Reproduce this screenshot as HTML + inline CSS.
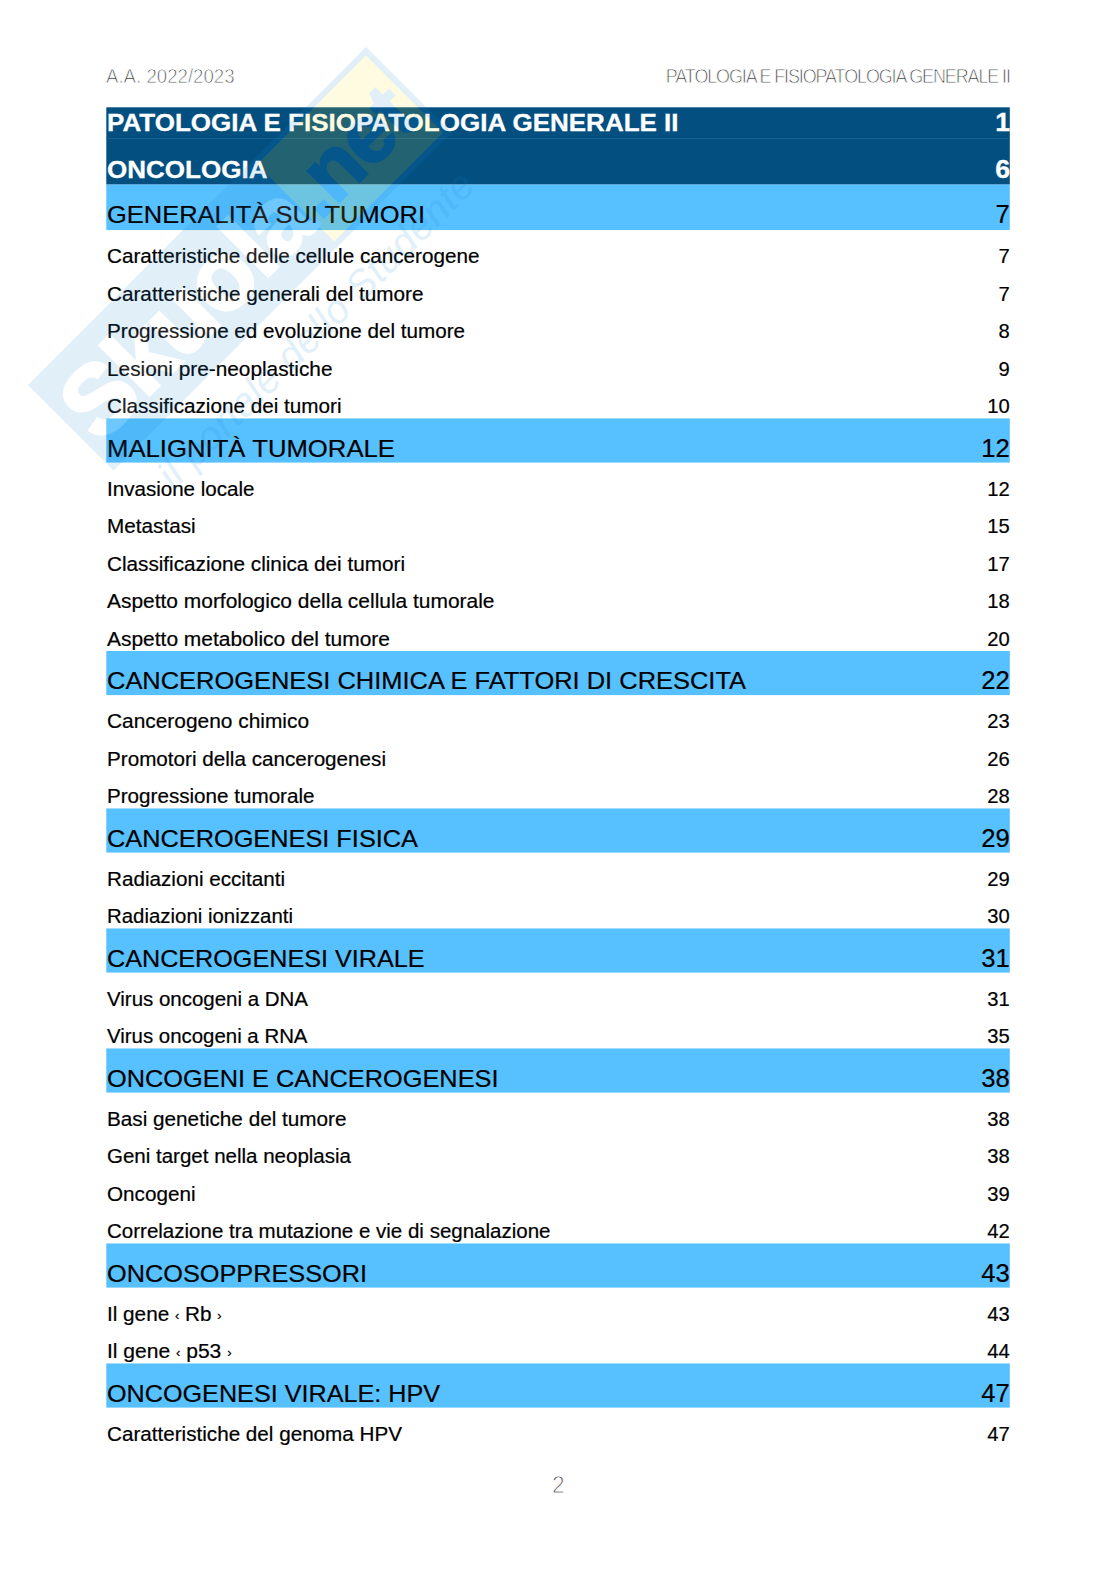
<!DOCTYPE html>
<html lang="it">
<head>
<meta charset="utf-8">
<title>PATOLOGIA E FISIOPATOLOGIA GENERALE II - Indice</title>
<style>
html,body{margin:0;padding:0;background:#fff;}
body{width:1116px;height:1579px;position:relative;overflow:hidden;
 font-family:"Liberation Sans",Arial,Helvetica,sans-serif;color:#000;}
.pg{position:absolute;left:0;top:0;width:1116px;height:1579px;overflow:hidden;}
.bars{position:absolute;left:0;top:0;}
.wm{position:absolute;left:27.5px;top:384.5px;width:478px;height:220px;transform-origin:0 0;transform:rotate(-45deg);opacity:.125;
 font-weight:bold;line-height:1;white-space:nowrap;}
.wm div{position:absolute;}
.wb{left:0;top:0;width:478px;height:121px;background:#1a89d8;}
.wy{left:318px;top:6px;width:154px;height:109px;background:#ffe61a;}
.ws{left:9px;top:11px;font-size:97px;color:#fff;letter-spacing:-1.5px;-webkit-text-stroke:3px #fff;}
.wn{left:322px;top:20px;font-size:84px;color:#1a89d8;letter-spacing:-2px;-webkit-text-stroke:2px #1a89d8;}
.wt{left:28px;top:144px;font-size:40px;font-weight:normal;font-style:italic;color:#1a89d8;letter-spacing:.45px;}
.t,.n,.hl,.hr,.pn{position:absolute;line-height:1;white-space:nowrap;display:block;}
.t,.hl{left:106.7px;transform-origin:0 0;}
.l2,.it{-webkit-text-stroke:0.2px #000;}
.g{font-size:.62em;position:relative;top:-.09em;}
.l1{-webkit-text-stroke:0.3px #fff;}
.n,.hr{right:106.2px;text-align:right;transform-origin:100% 0;}
.l1{color:#fff;font-weight:bold;font-size:24.4px;}
.l2{font-size:24.4px;}
.it{font-size:19.7px;}
.hl,.hr{font-size:19.5px;color:#333;-webkit-text-stroke:0.8px #fff;}
.hr{letter-spacing:-1.2px;}
.pn{font-size:23.5px;color:#555;-webkit-text-stroke:0.8px #fff;transform-origin:0 0;}
</style>
</head>
<body>
<div class="pg">
<svg class="bars" width="1116" height="1579" viewBox="0 0 1116 1579">
<rect x="106.3" y="107.3" width="903.5" height="77.3" fill="#034f7f"/>
<rect x="106.3" y="138" width="903.5" height="1" fill="#185f8b"/>
<rect x="106.3" y="184.6" width="903.5" height="45.45" fill="#57c0ff"/>
<rect x="106.3" y="418.45" width="903.5" height="44.15" fill="#57c0ff"/>
<rect x="106.3" y="650.95" width="903.5" height="44.15" fill="#57c0ff"/>
<rect x="106.3" y="808.45" width="903.5" height="44.15" fill="#57c0ff"/>
<rect x="106.3" y="928.45" width="903.5" height="44.15" fill="#57c0ff"/>
<rect x="106.3" y="1048.45" width="903.5" height="44.15" fill="#57c0ff"/>
<rect x="106.3" y="1243.45" width="903.5" height="44.15" fill="#57c0ff"/>
<rect x="106.3" y="1363.45" width="903.5" height="44.15" fill="#57c0ff"/>
</svg>
<div class="hl" id="hl" style="left:105.5px;top:67.49px;transform:scaleX(0.9565);">A.A. 2022/2023</div>
<div class="hr" id="hr" style="top:67.49px;transform:scaleX(0.9203);">PATOLOGIA E FISIOPATOLOGIA GENERALE II</div>
<div class="t l1" id="r0" style="top:110.95px;transform:scaleX(1.0660);">PATOLOGIA E FISIOPATOLOGIA GENERALE II</div><div class="n l1" id="n0" style="top:110px;font-size:25.2px;transform:scaleX(1.0600);">1</div>
<div class="t l1" id="r1" style="top:158.15px;transform:scaleX(1.0671);">ONCOLOGIA</div><div class="n l1" id="n1" style="top:157px;font-size:25.2px;transform:scaleX(1.0600);">6</div>
<div class="t l2" id="r2" style="top:203.45px;transform:scaleX(1.0444);">GENERALITÀ SUI TUMORI</div><div class="n l2" id="n2" style="top:202px;font-size:25.6px;">7</div>
<div class="t it" id="r3" style="top:247.15px;transform:scaleX(1.0505);">Caratteristiche delle cellule cancerogene</div><div class="n it" id="n3" style="top:246px;font-size:20.2px;">7</div>
<div class="t it" id="r4" style="top:284.65px;transform:scaleX(1.0517);">Caratteristiche generali del tumore</div><div class="n it" id="n4" style="top:284px;font-size:20.2px;">7</div>
<div class="t it" id="r5" style="top:322.15px;transform:scaleX(1.0484);">Progressione ed evoluzione del tumore</div><div class="n it" id="n5" style="top:321px;font-size:20.2px;">8</div>
<div class="t it" id="r6" style="top:359.65px;transform:scaleX(1.0566);">Lesioni pre-neoplastiche</div><div class="n it" id="n6" style="top:359px;font-size:20.2px;">9</div>
<div class="t it" id="r7" style="top:397.15px;transform:scaleX(1.0505);">Classificazione dei tumori</div><div class="n it" id="n7" style="top:396px;font-size:20.2px;">10</div>
<div class="t l2" id="r8" style="top:436.65px;transform:scaleX(1.0537);">MALIGNITÀ TUMORALE</div><div class="n l2" id="n8" style="top:436px;font-size:25.6px;">12</div>
<div class="t it" id="r9" style="top:479.65px;transform:scaleX(1.0447);">Invasione locale</div><div class="n it" id="n9" style="top:479px;font-size:20.2px;">12</div>
<div class="t it" id="r10" style="top:517.15px;transform:scaleX(1.0516);">Metastasi</div><div class="n it" id="n10" style="top:516px;font-size:20.2px;">15</div>
<div class="t it" id="r11" style="top:554.65px;transform:scaleX(1.0515);">Classificazione clinica dei tumori</div><div class="n it" id="n11" style="top:554px;font-size:20.2px;">17</div>
<div class="t it" id="r12" style="top:592.15px;transform:scaleX(1.0633);">Aspetto morfologico della cellula tumorale</div><div class="n it" id="n12" style="top:591px;font-size:20.2px;">18</div>
<div class="t it" id="r13" style="top:629.65px;transform:scaleX(1.0642);">Aspetto metabolico del tumore</div><div class="n it" id="n13" style="top:629px;font-size:20.2px;">20</div>
<div class="t l2" id="r14" style="top:669.15px;transform:scaleX(1.0432);">CANCEROGENESI CHIMICA E FATTORI DI CRESCITA</div><div class="n l2" id="n14" style="top:668px;font-size:25.6px;">22</div>
<div class="t it" id="r15" style="top:712.15px;transform:scaleX(1.0608);">Cancerogeno chimico</div><div class="n it" id="n15" style="top:711px;font-size:20.2px;">23</div>
<div class="t it" id="r16" style="top:749.65px;transform:scaleX(1.0491);">Promotori della cancerogenesi</div><div class="n it" id="n16" style="top:749px;font-size:20.2px;">26</div>
<div class="t it" id="r17" style="top:787.15px;transform:scaleX(1.0476);">Progressione tumorale</div><div class="n it" id="n17" style="top:786px;font-size:20.2px;">28</div>
<div class="t l2" id="r18" style="top:826.65px;transform:scaleX(1.0383);">CANCEROGENESI FISICA</div><div class="n l2" id="n18" style="top:826px;font-size:25.6px;">29</div>
<div class="t it" id="r19" style="top:869.65px;transform:scaleX(1.0494);">Radiazioni eccitanti</div><div class="n it" id="n19" style="top:869px;font-size:20.2px;">29</div>
<div class="t it" id="r20" style="top:907.15px;transform:scaleX(1.0363);">Radiazioni ionizzanti</div><div class="n it" id="n20" style="top:906px;font-size:20.2px;">30</div>
<div class="t l2" id="r21" style="top:946.65px;transform:scaleX(1.0319);">CANCEROGENESI VIRALE</div><div class="n l2" id="n21" style="top:946px;font-size:25.6px;">31</div>
<div class="t it" id="r22" style="top:989.65px;transform:scaleX(1.0396);">Virus oncogeni a DNA</div><div class="n it" id="n22" style="top:989px;font-size:20.2px;">31</div>
<div class="t it" id="r23" style="top:1027.15px;transform:scaleX(1.0370);">Virus oncogeni a RNA</div><div class="n it" id="n23" style="top:1026px;font-size:20.2px;">35</div>
<div class="t l2" id="r24" style="top:1066.65px;transform:scaleX(1.0391);">ONCOGENI E CANCEROGENESI</div><div class="n l2" id="n24" style="top:1066px;font-size:25.6px;">38</div>
<div class="t it" id="r25" style="top:1109.65px;transform:scaleX(1.0521);">Basi genetiche del tumore</div><div class="n it" id="n25" style="top:1109px;font-size:20.2px;">38</div>
<div class="t it" id="r26" style="top:1147.15px;transform:scaleX(1.0417);">Geni target nella neoplasia</div><div class="n it" id="n26" style="top:1146px;font-size:20.2px;">38</div>
<div class="t it" id="r27" style="top:1184.65px;transform:scaleX(1.0501);">Oncogeni</div><div class="n it" id="n27" style="top:1184px;font-size:20.2px;">39</div>
<div class="t it" id="r28" style="top:1222.15px;transform:scaleX(1.0418);">Correlazione tra mutazione e vie di segnalazione</div><div class="n it" id="n28" style="top:1221px;font-size:20.2px;">42</div>
<div class="t l2" id="r29" style="top:1261.65px;transform:scaleX(1.0370);">ONCOSOPPRESSORI</div><div class="n l2" id="n29" style="top:1261px;font-size:25.6px;">43</div>
<div class="t it" id="r30" style="top:1304.65px;transform:scaleX(1.0518);">Il gene <span class="g">‹</span> Rb <span class="g">›</span></div><div class="n it" id="n30" style="top:1304px;font-size:20.2px;">43</div>
<div class="t it" id="r31" style="top:1342.15px;transform:scaleX(1.0682);">Il gene <span class="g">‹</span> p53 <span class="g">›</span></div><div class="n it" id="n31" style="top:1341px;font-size:20.2px;">44</div>
<div class="t l2" id="r32" style="top:1381.65px;transform:scaleX(1.0323);">ONCOGENESI VIRALE: HPV</div><div class="n l2" id="n32" style="top:1381px;font-size:25.6px;">47</div>
<div class="t it" id="r33" style="top:1424.65px;transform:scaleX(1.0489);">Caratteristiche del genoma HPV</div><div class="n it" id="n33" style="top:1424px;font-size:20.2px;">47</div>
<div class="wm">
<div class="wb"></div><div class="wy"></div>
<div class="ws">Skuola</div><div class="wn">.net</div>
<div class="wt">il portale dello Studente</div>
</div>

<div class="pn" id="pn" style="left:552px;top:1474.11px;transform:scaleX(0.9634);">2</div>
</div>
</body>
</html>
